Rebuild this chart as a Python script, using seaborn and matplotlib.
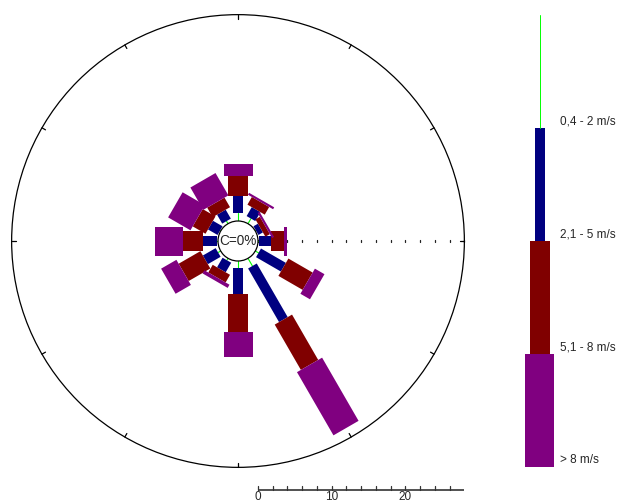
import numpy as np
import matplotlib
matplotlib.use("Agg")
import matplotlib.pyplot as plt
from matplotlib.patches import Polygon, Circle
import seaborn as sns

# Wind directions (degrees clockwise from north) and frequency (%) per speed class
directions = [0, 30, 60, 90, 120, 150, 180, 210, 240, 270, 300, 330]
speed_classes = ["0,4 - 2 m/s", "2,1 - 5 m/s", "5,1 - 8 m/s", "> 8 m/s"]
freq_04_2 = [1.1, 0.8, 0.1, 0.1, 0.5, 1.2, 1.0, 0.3, 0.4, 0.2, 0.1, 0.4]
freq_21_5 = [2.3, 1.4, 0.7, 1.7, 3.9, 8.4, 3.5, 1.5, 2.0, 1.8, 1.5, 1.4]
freq_51_8 = [2.7, 1.2, 0.7, 1.7, 3.8, 7.1, 5.1, 1.2, 3.4, 2.7, 2.0, 1.5]
freq_gt8 = [1.6, 0.3, 0.3, 0.5, 1.5, 9.9, 3.4, 0.5, 2.4, 3.8, 3.5, 3.5]
calm_label = "C=0%"
scale_labels = [0, 10, 20]
ring_max = 28

sns.set_theme(style="white")
plt.rcParams["font.family"] = ["Liberation Sans", "DejaVu Sans"]
colors = sns.color_palette(["#00ff00", "#000080", "#800000", "#800080"])

W, H, DPI = 618, 504, 100
fig = plt.figure(figsize=(W / DPI, H / DPI), dpi=DPI)
fig.patch.set_facecolor("white")

# main rose axes: one data unit = 1 % of frequency
px = 7.37                      # pixels per percent
cx, cy = 238, 241              # rose centre in pixels
ax = fig.add_axes([0, 0, 1, 1])
ax.set_xlim(-cx / px, (W - cx) / px)
ax.set_ylim(-(H - cy) / px, cy / px)
ax.axis("off")

calm_r = 20 / px               # radius of calm circle
widths = [None, 10 / px, 20 / px, 29 / px]
R = calm_r + ring_max

# outer ring with inward ticks every 30 degrees
ax.add_patch(Circle((0, 0), R, fill=False, ec="black", lw=0.9, zorder=2))
for a in range(0, 360, 30):
    t = np.deg2rad(a)
    u = np.array([np.sin(t), np.cos(t)])
    p0, p1 = u * R, u * (R - 0.55)
    ax.plot([p0[0], p1[0]], [p0[1], p1[1]], color="black", lw=0.9, zorder=2)

# radial ticks along east axis, every 2 %
for k in range(0, ring_max + 1, 2):
    ax.plot([calm_r + k, calm_r + k], [-0.2, 0.2], color="#222222", lw=0.9, zorder=1)

series = [freq_04_2, freq_21_5, freq_51_8, freq_gt8]
for i, d in enumerate(directions):
    t = np.deg2rad(d)
    u = np.array([np.sin(t), np.cos(t)])
    v = np.array([np.cos(t), -np.sin(t)])
    r0 = calm_r
    for j, s in enumerate(series):
        r1 = r0 + s[i]
        if j == 0:
            a, b = u * r0, u * r1
            ax.plot([a[0], b[0]], [a[1], b[1]], color=colors[0], lw=0.8, zorder=3)
        else:
            hw = widths[j] / 2
            pts = [u * r0 + v * hw, u * r1 + v * hw, u * r1 - v * hw, u * r0 - v * hw]
            ax.add_patch(Polygon(pts, closed=True, fc=colors[j], ec="none", zorder=3 + j))
        r0 = r1

# calm circle
ax.add_patch(Circle((0, 0), calm_r, fc="white", ec="black", lw=0.9, zorder=10))
ax.text(0, 0, calm_label, ha="center", va="center", fontsize=9.8, zorder=11)

# scale bar below the rose
sy = -(490 - cy) / px
ax.plot([calm_r, calm_r + ring_max], [sy, sy], color="#333333", lw=1.2, solid_capstyle="butt")
for k in range(0, ring_max, 2):
    ax.plot([calm_r + k, calm_r + k], [sy, sy + 0.5], color="#333333", lw=0.9)
for v_ in scale_labels:
    ax.text(calm_r + v_, sy - 1.0, str(v_), ha="center", va="center", fontsize=8.5)

# speed class key
lax = fig.add_axes([519.5 / W, (H - 467) / H, 40 / W, 452 / H])
lax.set_xlim(-20, 20)
lax.set_ylim(4, 0)
lax.axis("off")
key_widths = [None, 10, 20, 29]
for j, lab in enumerate(speed_classes):
    if j == 0:
        lax.plot([0, 0], [0, 1], color=colors[0], lw=0.7)
    else:
        lax.bar(0, 1, bottom=j, width=key_widths[j], color=colors[j], linewidth=0)
    lax.text(21, j + 1 - 0.06, lab, ha="left", va="center", fontsize=8.5, clip_on=False)

fig.savefig("out.png", dpi=DPI, facecolor="white")
